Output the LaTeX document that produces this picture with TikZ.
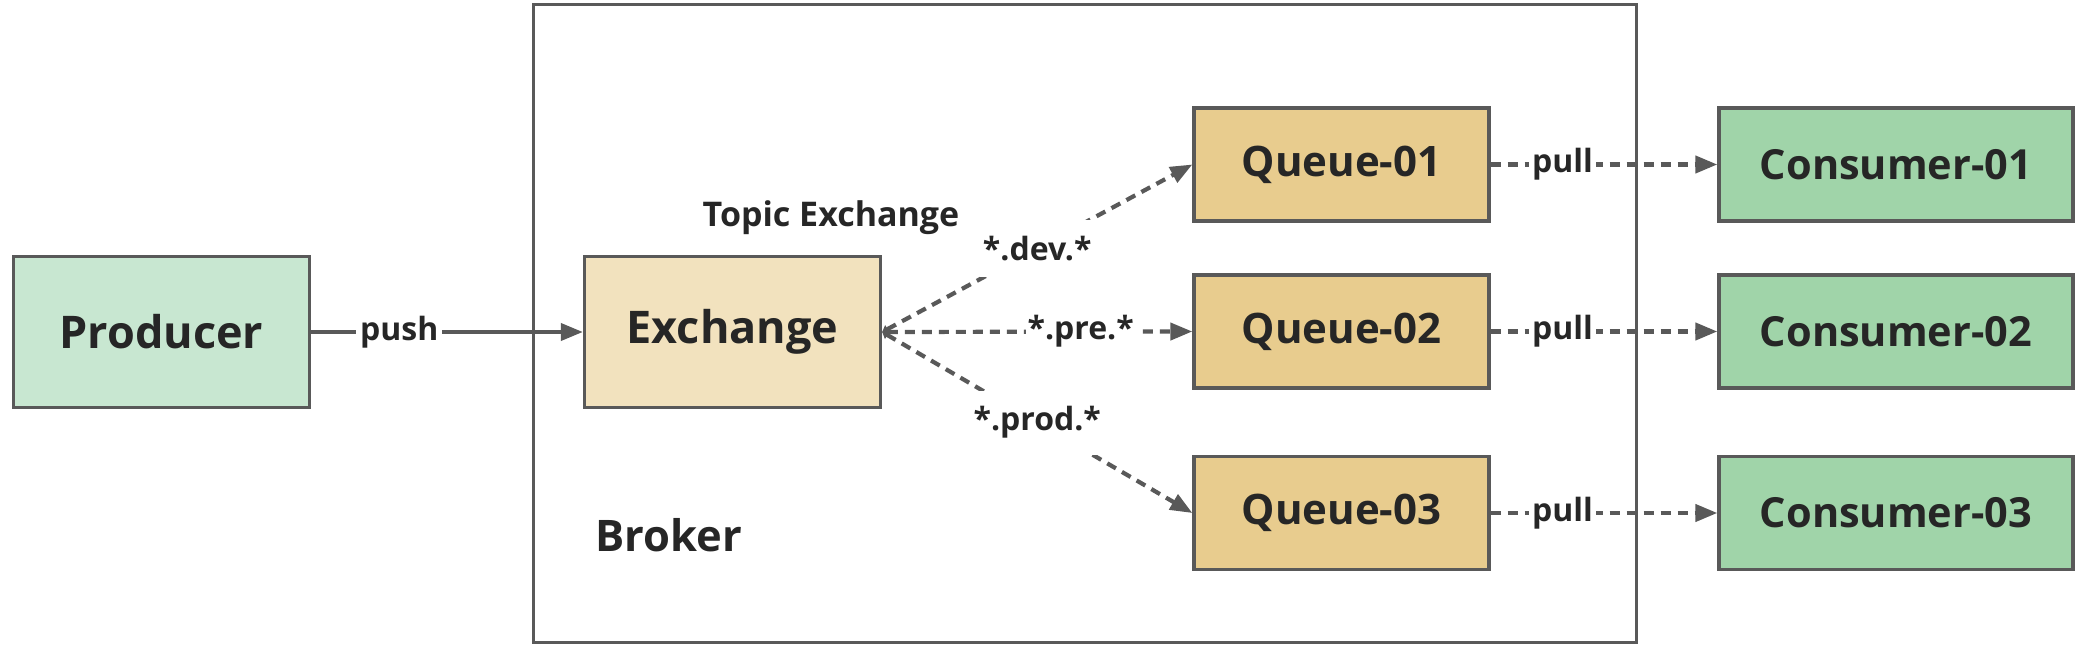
\documentclass[tikz,border=0pt]{standalone}
\usepackage{fontspec}
\setmainfont{Open Sans}
\usetikzlibrary{arrows.meta}
\definecolor{bordc}{HTML}{595959}
\definecolor{txtc}{HTML}{262626}
\definecolor{prodc}{HTML}{C8E7D1}
\definecolor{exchc}{HTML}{F2E2BE}
\definecolor{queuec}{HTML}{E8CC8E}
\definecolor{consc}{HTML}{A0D4A9}
\tikzset{
  box/.style={draw=bordc, line width=3.3bp, text=txtc, font=\bfseries\fontsize{42bp}{50bp}\selectfont, inner sep=0pt},
  bigbox/.style={box, minimum width=296bp, minimum height=151bp, font=\bfseries\fontsize{45bp}{54bp}\selectfont},
  qbox/.style={box, fill=queuec, minimum width=295bp, minimum height=113bp},
  cbox/.style={box, fill=consc, minimum width=354bp, minimum height=113bp, font=\bfseries\fontsize{41.5bp}{50bp}\selectfont},
  solidarrow/.style={draw=bordc, line width=3.8bp, -{Triangle[length=22bp,width=17bp]}},
  dasharrow/.style={draw=bordc, line width=4.2bp, dash pattern=on 10bp off 7bp, -{Triangle[length=22bp,width=17bp]}},
  lbl/.style={fill=white, text=txtc, font=\bfseries\fontsize{32bp}{38bp}\selectfont, inner xsep=3bp, inner ysep=2bp},
}
\begin{document}
\begin{tikzpicture}[x=1bp, y=-1bp]
\useasboundingbox (0,0) rectangle (2092,648);
\node[draw=bordc, line width=3bp, minimum width=1102bp, minimum height=637bp, inner sep=0pt] (broker) at (1085,323.5) {};
\node[anchor=base west, text=txtc, font=\bfseries\fontsize{43.5bp}{52bp}\selectfont, inner sep=0pt] (brokerlbl) at (595,551) {Broker};
\node[anchor=base, text=txtc, font=\bfseries\fontsize{34bp}{40bp}\selectfont, inner sep=0pt] (topic) at (831,227) {Topic Exchange};
\node[bigbox, fill=prodc] (producer) at (161.5,332) {Producer};
\node[bigbox, fill=exchc] (exchange) at (732.5,332) {Exchange};
\node[qbox] (q1) at (1341.5,164.5) {Queue-01};
\node[qbox] (q2) at (1341.5,331.5) {Queue-02};
\node[qbox] (q3) at (1341.5,513) {Queue-03};
\node[cbox] (c1) at (1896,164.5) {Consumer-01};
\node[cbox] (c2) at (1896,331.5) {Consumer-02};
\node[cbox] (c3) at (1896,513) {Consumer-03};
\draw[solidarrow] (producer.east) -- node[lbl, pos=0.324, inner xsep=4bp] {push} (exchange.west);
\draw[dasharrow, {Triangle[length=6bp,width=9bp]}-{Triangle[length=22bp,width=17bp]}] (exchange.east) -- node[lbl, inner ysep=16bp] {*.dev.*} (q1.west);
\draw[dasharrow, {Triangle[length=6bp,width=9bp]}-{Triangle[length=22bp,width=17bp]}] (exchange.east) -- node[lbl, pos=0.64, inner xsep=2bp] {*.pre.*} (q2.west);
\draw[dasharrow, {Triangle[length=6bp,width=9bp]}-{Triangle[length=22bp,width=17bp]}] (exchange.east) -- node[lbl, inner ysep=16bp] {*.prod.*} (q3.west);
\draw[dasharrow] (q1.east) -- node[lbl, pos=0.317] {pull} (c1.west);
\draw[dasharrow] (q2.east) -- node[lbl, pos=0.317] {pull} (c2.west);
\draw[dasharrow] (q3.east) -- node[lbl, pos=0.317] {pull} (c3.west);
\end{tikzpicture}
\end{document}
